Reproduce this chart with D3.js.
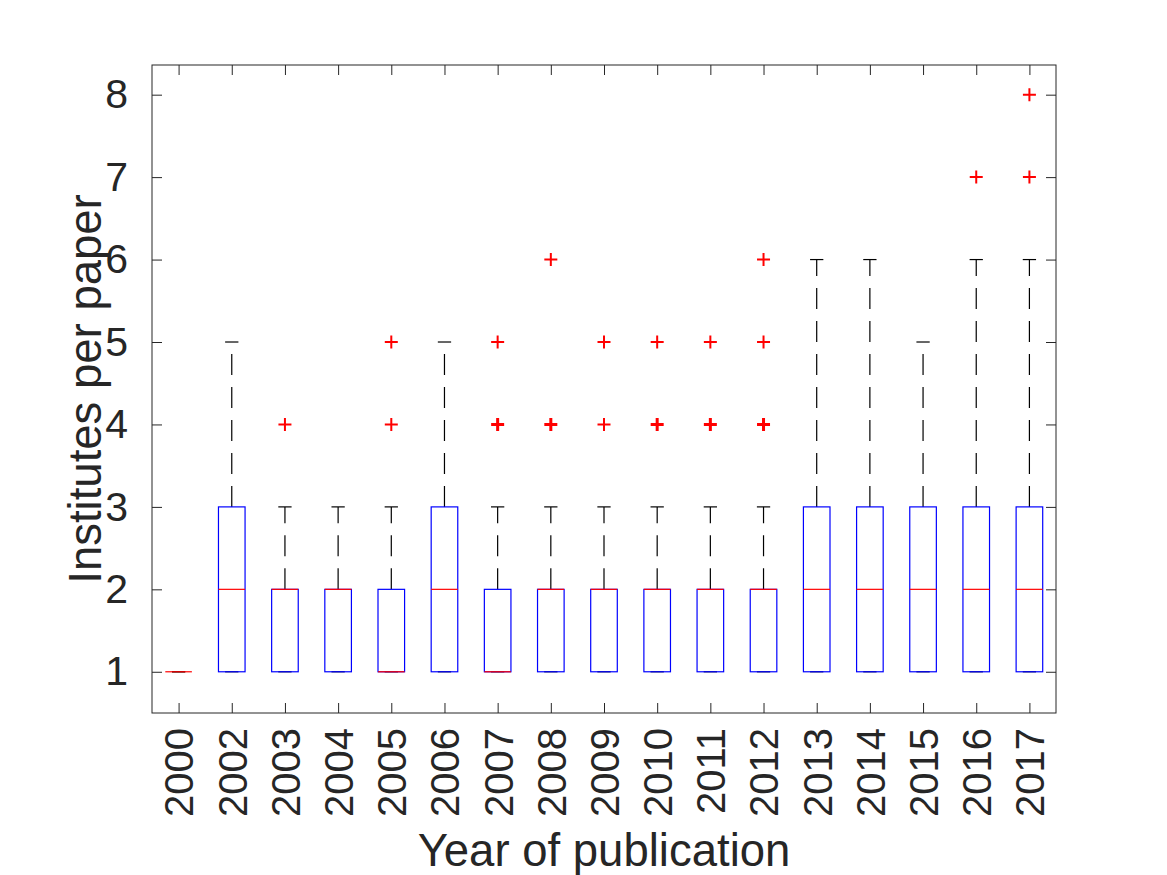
<!DOCTYPE html>
<html lang="en">
<head>
    <meta charset="utf-8">
    <script src="https://d3js.org/d3.v7.min.js"></script>
    <style type="text/css">
        body {
            margin: 0;
            background: white;
            overflow: hidden;
            font-family: "Liberation Sans", Arial, Helvetica, sans-serif;
        }
        .axis text {
            font-family: "Liberation Sans", Arial, Helvetica, sans-serif;
            fill: #262626;
        }
    </style>
</head>
<body>
<svg id="chart"></svg>
<script type="text/javascript">
    // data
    var years = ["2000", "2002", "2003", "2004", "2005", "2006", "2007", "2008", "2009",
                 "2010", "2011", "2012", "2013", "2014", "2015", "2016", "2017"];
    var lowerQuartile = [1, 1, 1, 1, 1, 1, 1, 1, 1, 1, 1, 1, 1, 1, 1, 1, 1];
    var medians       = [1, 2, 2, 2, 1, 2, 1, 2, 2, 2, 2, 2, 2, 2, 2, 2, 2];
    var upperQuartile = [1, 3, 2, 2, 2, 3, 2, 2, 2, 2, 2, 2, 3, 3, 3, 3, 3];
    var whiskerLow    = [1, 1, 1, 1, 1, 1, 1, 1, 1, 1, 1, 1, 1, 1, 1, 1, 1];
    var whiskerHigh   = [1, 5, 3, 3, 3, 5, 3, 3, 3, 3, 3, 3, 6, 6, 5, 6, 6];
    var outliers = [[], [], [4], [], [4, 5], [], [4, 4, 5], [4, 4, 6], [4, 5],
                    [4, 4, 5], [4, 4, 5], [4, 4, 5, 6], [], [], [], [7], [7, 8]];
    var yTicks = [1, 2, 3, 4, 5, 6, 7, 8];

    var width = 1167;
    var height = 875;
    var margin = {top: 65, right: 111, bottom: 162, left: 152};
    var innerW = width - margin.left - margin.right;
    var innerH = height - margin.top - margin.bottom;
    var axisColor = "#262626";

    var svg = d3.select("#chart")
        .attr("width", width)
        .attr("height", height);

    var g = svg.append("g")
        .attr("transform", "translate(" + margin.left + "," + margin.top + ")");

    var x = d3.scalePoint()
        .domain(years)
        .range([0, innerW])
        .padding(0.5);

    var y = d3.scaleLinear()
        .domain([0.5, 8.36])
        .range([innerH, 0]);

    var step = x.step();
    var boxW = step * 0.5;
    var capW = step * 0.25;

    var rows = years.map(function(yr, i) {
        return {
            year: yr,
            q1: lowerQuartile[i],
            med: medians[i],
            q3: upperQuartile[i],
            lo: whiskerLow[i],
            hi: whiskerHigh[i],
            out: outliers[i]
        };
    });

    // axes (ticks pointing inward, box on)
    var xAxis = g.append("g")
        .attr("class", "axis")
        .attr("transform", "translate(0," + innerH + ")")
        .call(d3.axisBottom(x).tickSizeInner(-10).tickSizeOuter(0).tickPadding(15));
    xAxis.selectAll("text")
        .attr("transform", "rotate(-90)")
        .attr("x", -15)
        .attr("y", 0)
        .attr("dy", "0.36em")
        .style("text-anchor", "end")
        .style("font-size", "40px");

    g.append("g")
        .attr("class", "axis")
        .call(d3.axisTop(x).tickSizeInner(-10).tickSizeOuter(0).tickFormat(""));

    var yAxis = g.append("g")
        .attr("class", "axis")
        .call(d3.axisLeft(y).tickValues(yTicks).tickSizeInner(-10).tickSizeOuter(0).tickPadding(24));
    yAxis.selectAll("text").style("font-size", "41px");

    g.append("g")
        .attr("class", "axis")
        .attr("transform", "translate(" + innerW + ",0)")
        .call(d3.axisRight(y).tickValues(yTicks).tickSizeInner(-10).tickSizeOuter(0).tickFormat(""));

    g.selectAll(".axis path").remove();
    g.selectAll(".axis line").attr("stroke", axisColor);

    g.append("rect")
        .attr("width", innerW)
        .attr("height", innerH)
        .attr("fill", "none")
        .attr("stroke", axisColor)
        .attr("stroke-width", 1);

    // boxes
    var boxes = g.selectAll(".boxgroup")
        .data(rows)
        .join("g")
        .attr("class", "boxgroup")
        .attr("transform", function(d) { return "translate(" + x(d.year) + ",0)"; });

    boxes.append("line")
        .attr("x1", 0).attr("x2", 0)
        .attr("y1", function(d) { return y(d.q3); })
        .attr("y2", function(d) { return y(d.hi); })
        .attr("stroke", "#000")
        .attr("stroke-width", 1.2)
        .attr("stroke-dasharray", "21,12");

    boxes.append("line")
        .attr("x1", 0).attr("x2", 0)
        .attr("y1", function(d) { return y(d.q1); })
        .attr("y2", function(d) { return y(d.lo); })
        .attr("stroke", "#000")
        .attr("stroke-width", 1.2)
        .attr("stroke-dasharray", "21,12");

    boxes.append("line")
        .attr("x1", -capW / 2).attr("x2", capW / 2)
        .attr("y1", function(d) { return y(d.hi); })
        .attr("y2", function(d) { return y(d.hi); })
        .attr("stroke", "#000")
        .attr("stroke-width", 1.2);

    boxes.append("line")
        .attr("x1", -capW / 2).attr("x2", capW / 2)
        .attr("y1", function(d) { return y(d.lo); })
        .attr("y2", function(d) { return y(d.lo); })
        .attr("stroke", "#000")
        .attr("stroke-width", 1.2);

    boxes.append("rect")
        .attr("x", -boxW / 2)
        .attr("width", boxW)
        .attr("y", function(d) { return y(d.q3); })
        .attr("height", function(d) { return y(d.q1) - y(d.q3); })
        .attr("fill", "none")
        .attr("stroke", "#0000ff")
        .attr("stroke-width", 1.2);

    boxes.append("line")
        .attr("x1", -boxW / 2).attr("x2", boxW / 2)
        .attr("y1", function(d) { return y(d.med); })
        .attr("y2", function(d) { return y(d.med); })
        .attr("stroke", "#ff0000")
        .attr("stroke-width", 1.2);

    // outliers as plus markers; repeated values look heavier
    boxes.each(function(d) {
        var counts = d3.rollup(d.out, function(v) { return v.length; }, function(v) { return v; });
        var pts = Array.from(counts, function(e) { return {v: e[0], n: e[1]}; });
        d3.select(this).selectAll(".outlier")
            .data(pts)
            .join("path")
            .attr("class", "outlier")
            .attr("d", function(p) {
                var cy = y(p.v);
                return "M-6.5," + cy + "H6.5M0," + (cy - 6.5) + "V" + (cy + 6.5);
            })
            .attr("stroke", "#ff0000")
            .attr("stroke-width", function(p) { return p.n > 1 ? 3 : 2; })
            .attr("fill", "none");
    });

    // axis titles
    svg.append("text")
        .attr("x", margin.left + innerW / 2)
        .attr("y", 866)
        .attr("text-anchor", "middle")
        .style("font-size", "45.5px")
        .style("fill", axisColor)
        .text("Year of publication");

    svg.append("text")
        .attr("transform", "translate(101," + (margin.top + innerH / 2) + ") rotate(-90)")
        .attr("text-anchor", "middle")
        .style("font-size", "45.5px")
        .style("fill", axisColor)
        .text("Institutes per paper");
</script>
</body>
</html>
